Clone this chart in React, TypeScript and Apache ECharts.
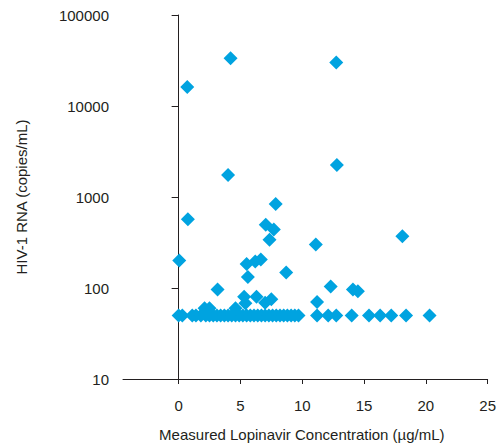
import React, { useEffect, useRef } from "react";
import * as echarts from "echarts";

const xTicks = [0, 5, 10, 15, 20, 25];
const yTicks = [10, 100, 1000, 10000, 100000];

// Points above the lower limit
const upperX = [0.7, 4.2, 12.75, 12.8, 4.0, 0.75, 7.85, 7.05, 7.7, 7.35, 11.1, 18.1, 8.7, 12.3, 14.1, 14.5, 11.2, 0.05, 5.5, 6.2, 6.65, 5.6, 3.15, 5.3, 6.3, 7.5, 5.4, 7.0, 2.5, 2.1, 4.6];
const upperY = [16200, 33500, 30000, 2250, 1750, 570, 840, 495, 440, 340, 300, 370, 148, 104, 96, 92, 70, 200, 184, 195, 206, 132, 96, 80, 80, 75, 68, 69, 60, 60, 60];

// Points at the lower limit (50 copies/mL)
const lowX = [0, 0.3, 1.1, 1.4, 1.8, 2.2, 2.5, 2.8, 3.1, 3.4, 3.7, 4.0, 4.3, 4.6, 4.9, 5.2, 5.5, 5.8, 6.1, 6.4, 6.7, 7.0, 7.3, 7.6, 7.9, 8.2, 8.5, 8.8, 9.1, 9.4, 9.7, 11.2, 12.1, 12.75, 14.0, 15.4, 16.3, 17.2, 18.4, 20.3];
const lowY = 50;

export default function App() {
  const ref = useRef<HTMLDivElement>(null);
  useEffect(() => {
    if (!ref.current) return;
    const chart = echarts.init(ref.current, null, { renderer: "svg" });
    const data: number[][] = [];
    upperX.forEach((x, i) => data.push([x, upperY[i]]));
    lowX.forEach((x) => data.push([x, lowY]));
    const textColor = "#231f20";
    const font = "Liberation Sans, Arial, Helvetica, sans-serif";
    chart.setOption({
      animation: false,
      backgroundColor: "#ffffff",
      grid: { left: 123, top: 15, right: 7, bottom: 63, containLabel: false },
      xAxis: {
        type: "value",
        min: -4.5,
        max: 25,
        name: "Measured Lopinavir Concentration (µg/mL)",
        nameLocation: "middle",
        nameGap: 48,
        nameTextStyle: { fontSize: 15, color: textColor, fontFamily: font, padding: [0, 7, 0, 0] },
        splitLine: { show: false },
        axisLine: { show: true, onZero: false, lineStyle: { color: textColor, width: 1 } },
        axisTick: { show: true, length: 5, customValues: xTicks, lineStyle: { color: textColor } },
        axisLabel: { customValues: xTicks, margin: 19, fontSize: 15, color: textColor, fontFamily: font },
      },
      yAxis: {
        type: "log",
        logBase: 10,
        min: 10,
        max: 100000,
        name: "HIV-1 RNA (copies/mL)",
        nameLocation: "middle",
        nameGap: 94,
        nameTextStyle: { fontSize: 15, color: textColor, fontFamily: font },
        splitLine: { show: false },
        minorTick: { show: false },
        axisLine: { show: true, lineStyle: { color: textColor, width: 1 } },
        axisTick: { show: true, length: 7, lineStyle: { color: textColor } },
        axisLabel: { margin: 14, fontSize: 15, color: textColor, fontFamily: font, formatter: (v: number) => String(Math.round(v)) },
      },
      series: [
        {
          type: "scatter",
          symbol: "diamond",
          symbolSize: 14,
          itemStyle: { color: "#00a3e0", opacity: 1 },
          data,
        },
      ],
    });
    return () => chart.dispose();
  }, []);
  return <div ref={ref} style={{ width: 499, height: 447, position: "absolute", left: 0, top: 0 }} />;
}
